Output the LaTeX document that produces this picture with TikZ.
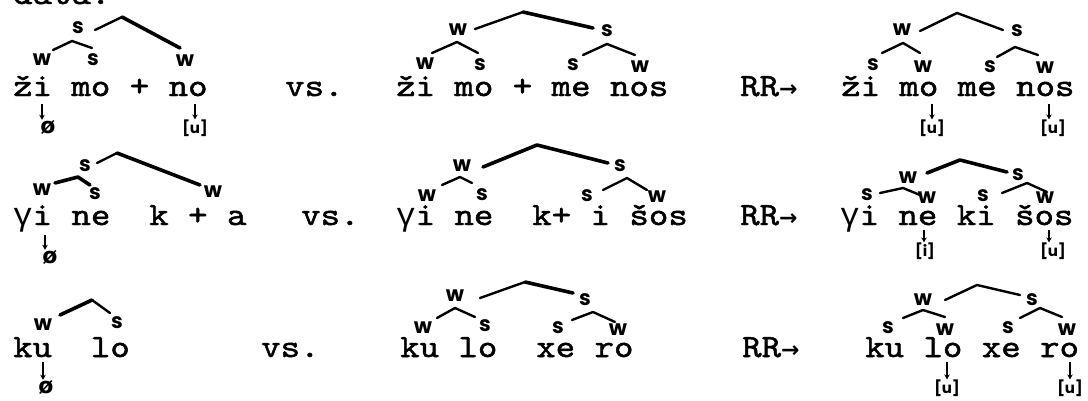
\documentclass[tikz,border=0pt]{standalone}
\usepackage{fontspec}
\newfontfamily\tw{lmmono10-regular}[Extension=.otf,FakeStretch=1.143,FakeBold=1.5]
\newfontfamily\gam{Liberation Mono}
\newfontfamily\hand{Poppins}
\newfontfamily\djv{DejaVu Sans}
\usetikzlibrary{arrows.meta}
\newcommand{\rrarrow}{RR{\djv\bfseries\fontsize{22}{22}\selectfont →}}
\newcommand{\gm}{{\gam\fontsize{32.4}{36}\selectfont γ}}
\begin{document}
\begin{tikzpicture}[x=1pt,y=-1pt,
  txt/.style={anchor=base west, inner sep=0pt, font=\tw\fontsize{32.4}{36}\selectfont},
  lab/.style={inner sep=0pt, font=\hand\bfseries\fontsize{21}{21}\selectfont},
  br/.style={line width=2.4pt, line cap=round, line join=round},
  thk/.style={line width=3.6pt, line cap=round, line join=round},
  dn/.style={-{Stealth[length=5pt,width=5.5pt]}, line width=1.5pt},
  ph/.style={inner sep=0pt, font=\hand\bfseries\fontsize{15}{15}\selectfont},
  nul/.style={inner sep=0pt, font=\djv\bfseries\fontsize{22}{22}\selectfont}]
\useasboundingbox (0,0) rectangle (1088,400);

% ---------- texts ----------
\node[txt] (data) at (13,4) {data:};
\node[txt] (r1a) at (13,96) {ži mo + no};
\node[txt] (r1v) at (285,96) {vs.};
\node[txt] (r1b) at (396,96) {ži mo + me nos};
\node[txt] (r1r) at (740,96) {\rrarrow};
\node[txt] (r1c) at (841,96) {ži mo me nos};

\node[txt] (r2a) at (13,225) {\gm i ne~~k + a};
\node[txt] (r2v) at (301,225) {vs.};
\node[txt] (r2b) at (396,225) {\gm i ne~~k+ i šos};
\node[txt] (r2r) at (740,225) {\rrarrow};
\node[txt] (r2c) at (840,225) {\gm i ne ki šos};

\node[txt] (r3a) at (13,357) {ku~~lo};
\node[txt] (r3v) at (261,357) {vs.};
\node[txt] (r3b) at (400,357) {ku lo~~xe ro};
\node[txt] (r3r) at (742,357) {\rrarrow};
\node[txt] (r3c) at (865,357) {ku lo xe ro};

% ---------- tree 1 ----------
\coordinate (t1r) at (122,17);
\node[lab] (t1s) at (78,28) {s};
\coordinate (t1a) at (72,41);
\node[lab] (t1l1) at (42,60) {w};
\node[lab] (t1l2) at (93,60) {s};
\node[lab] (t1l3) at (185,61) {w};
\coordinate (t1e0) at (95,30); \coordinate (t1e3) at (180,48);
\coordinate (t1e1) at (53,50); \coordinate (t1e2) at (92,48);
\draw[br] (t1e0) -- (t1r); \draw[thk] (t1r) -- (t1e3);
\draw[br] (t1e1) -- (t1a) -- (t1e2);
\coordinate (t1d1) at (42,104); \node[nul] (t1z1) at (48,127) {ø};
\draw[dn] (t1d1) -- (t1d1 |- t1z1.north);
\coordinate (t1d2) at (195,104); \node[ph] (t1u2) at (195,128) {[u]};
\draw[dn] (t1d2) -- (t1u2.north);

% ---------- tree 2 ----------
\coordinate (t2r) at (523,12);
\node[lab] (t2w) at (458,30) {w};
\node[lab] (t2s) at (607,31) {s};
\coordinate (t2e0) at (475,29); \coordinate (t2e3) at (593,28);
\draw[br] (t2e0) -- (t2r); \draw[thk] (t2r) -- (t2e3);
\coordinate (t2a) at (457,42); \coordinate (t2b) at (607,44);
\coordinate (t2e1) at (432,53); \coordinate (t2e2) at (478,53);
\coordinate (t2e4) at (583,55); \coordinate (t2e5) at (635,55);
\draw[br] (t2e1) -- (t2a) -- (t2e2);
\draw[br] (t2e4) -- (t2b) -- (t2e5);
\node[lab] (t2l1) at (425,64) {w};
\node[lab] (t2l2) at (480,65) {s};
\node[lab] (t2l3) at (573,65) {s};
\node[lab] (t2l4) at (640,67) {w};

% ---------- tree 3 ----------
\coordinate (t3r) at (957,13);
\node[lab] (t3w) at (902,30) {w};
\node[lab] (t3s) at (1017,31) {s};
\coordinate (t3e0) at (920,31); \coordinate (t3e3) at (1003,30);
\draw[br] (t3e0) -- (t3r) -- (t3e3);
\coordinate (t3a) at (903,43); \coordinate (t3b) at (1015,47);
\coordinate (t3e1) at (882,53); \coordinate (t3e2) at (920,53);
\coordinate (t3e4) at (997,57); \coordinate (t3e5) at (1038,55);
\draw[br] (t3e1) -- (t3a) -- (t3e2);
\draw[br] (t3e4) -- (t3b) -- (t3e5);
\node[lab] (t3l1) at (873,65) {s};
\node[lab] (t3l2) at (923,67) {w};
\node[lab] (t3l3) at (990,67) {s};
\node[lab] (t3l4) at (1045,68) {w};
\coordinate (t3d1) at (932,104); \node[ph] (t3u1) at (932,128) {[u]};
\draw[dn] (t3d1) -- (t3u1.north);
\coordinate (t3d2) at (1049,104); \node[ph] (t3u2) at (1053,128) {[u]};
\draw[dn] (t3d2) -- (t3d2 |- t3u2.north);

% ---------- tree 4 ----------
\coordinate (t4r) at (117,153);
\node[lab] (t4s) at (85,166) {s};
\coordinate (t4e0) at (97,163); \coordinate (t4e3) at (200,185);
\draw[br] (t4e0) -- (t4r); \draw[thk] (t4r) -- (t4e3);
\coordinate (t4a) at (78,177);
\coordinate (t4e1) at (55,183); \coordinate (t4e2) at (90,185);
\draw[thk] (t4e1) -- (t4a) -- (t4e2);
\node[lab] (t4l1) at (42,190) {w};
\node[lab] (t4l2) at (95,194) {s};
\node[lab] (t4l3) at (213,192) {w};
\coordinate (t4d1) at (45,235); \node[nul] (t4z1) at (50,257) {ø};
\draw[dn] (t4d1) -- (t4d1 |- t4z1.north);

% ---------- tree 5 ----------
\coordinate (t5r) at (537,145);
\node[lab] (t5w) at (462,166) {w};
\node[lab] (t5s) at (620,166) {s};
\coordinate (t5e0) at (483,167); \coordinate (t5e3) at (608,163);
\draw[thk] (t5e0) -- (t5r) -- (t5e3);
\coordinate (t5a) at (460,177); \coordinate (t5b) at (627,178);
\coordinate (t5e1) at (442,185); \coordinate (t5e2) at (472,183);
\coordinate (t5e4) at (603,190); \coordinate (t5e5) at (647,190);
\draw[br] (t5e1) -- (t5a) -- (t5e2);
\draw[br] (t5e4) -- (t5b) -- (t5e5);
\node[lab] (t5l1) at (427,196) {w};
\node[lab] (t5l2) at (482,195) {s};
\node[lab] (t5l3) at (587,196) {s};
\node[lab] (t5l4) at (657,197) {w};

% ---------- tree 6 ----------
\coordinate (t6r) at (960,160);
\node[lab] (t6w) at (908,178) {w};
\node[lab] (t6s) at (1018,175) {s};
\coordinate (t6e0) at (927,173); \coordinate (t6e3) at (1007,172);
\draw[thk] (t6e0) -- (t6r) -- (t6e3);
\coordinate (t6a) at (903,188); \coordinate (t6b) at (1027,183);
\coordinate (t6e1) at (880,193); \coordinate (t6e2) at (920,195);
\coordinate (t6e4) at (1002,193); \coordinate (t6e5) at (1047,192);
\draw[br] (t6e1) -- (t6a) -- (t6e2);
\draw[br] (t6e4) -- (t6b) -- (t6e5);
\node[lab] (t6l1) at (867,195) {s};
\node[lab] (t6l2) at (927,198) {w};
\node[lab] (t6l3) at (983,196) {s};
\node[lab] (t6l4) at (1045,198) {w};
\coordinate (t6d1) at (924,230); \node[ph] (t6u1) at (925,251) {[i]};
\draw[dn] (t6d1) -- (t6d1 |- t6u1.north);
\coordinate (t6d2) at (1049,230); \node[ph] (t6u2) at (1053,251) {[u]};
\draw[dn] (t6d2) -- (t6d2 |- t6u2.north);

% ---------- tree 7 ----------
\coordinate (t7r) at (92,300);
\coordinate (t7e0) at (60,315); \coordinate (t7e3) at (110,313);
\draw[thk] (t7e0) -- (t7r); \draw[br] (t7r) -- (t7e3);
\node[lab] (t7l1) at (43,325) {w};
\node[lab] (t7l2) at (117,323) {s};
\coordinate (t7d1) at (43,362); \node[nul] (t7z1) at (46,387) {ø};
\draw[dn] (t7d1) -- (t7d1 |- t7z1.north);

% ---------- tree 8 ----------
\coordinate (t8r) at (525,282);
\node[lab] (t8w) at (455,296) {w};
\node[lab] (t8s) at (585,300) {s};
\coordinate (t8e0) at (480,298); \coordinate (t8e3) at (573,293);
\draw[br] (t8e0) -- (t8r); \draw[thk] (t8r) -- (t8e3);
\coordinate (t8a) at (455,308); \coordinate (t8b) at (593,312);
\coordinate (t8e1) at (437,318); \coordinate (t8e2) at (475,317);
\coordinate (t8e4) at (572,320); \coordinate (t8e5) at (615,322);
\draw[br] (t8e1) -- (t8a) -- (t8e2);
\draw[br] (t8e4) -- (t8b) -- (t8e5);
\node[lab] (t8l1) at (423,328) {w};
\node[lab] (t8l2) at (485,326) {s};
\node[lab] (t8l3) at (558,328) {s};
\node[lab] (t8l4) at (618,330) {w};

% ---------- tree 9 ----------
\coordinate (t9r) at (977,285);
\node[lab] (t9w) at (923,300) {w};
\node[lab] (t9s) at (1032,300) {s};
\coordinate (t9e0) at (945,300); \coordinate (t9e3) at (1020,295);
\draw[br] (t9e0) -- (t9r) -- (t9e3);
\coordinate (t9a) at (923,310); \coordinate (t9b) at (1040,308);
\coordinate (t9e1) at (903,318); \coordinate (t9e2) at (945,317);
\coordinate (t9e4) at (1020,318); \coordinate (t9e5) at (1062,317);
\draw[br] (t9e1) -- (t9a) -- (t9e2);
\draw[br] (t9e4) -- (t9b) -- (t9e5);
\node[lab] (t9l1) at (888,328) {s};
\node[lab] (t9l2) at (945,330) {w};
\node[lab] (t9l3) at (1008,328) {s};
\node[lab] (t9l4) at (1067,330) {w};
\coordinate (t9d1) at (947,362); \node[ph] (t9u1) at (947,388) {[u]};
\draw[dn] (t9d1) -- (t9u1.north);
\coordinate (t9d2) at (1070,362); \node[ph] (t9u2) at (1070,388) {[u]};
\draw[dn] (t9d2) -- (t9u2.north);
\end{tikzpicture}
\end{document}
